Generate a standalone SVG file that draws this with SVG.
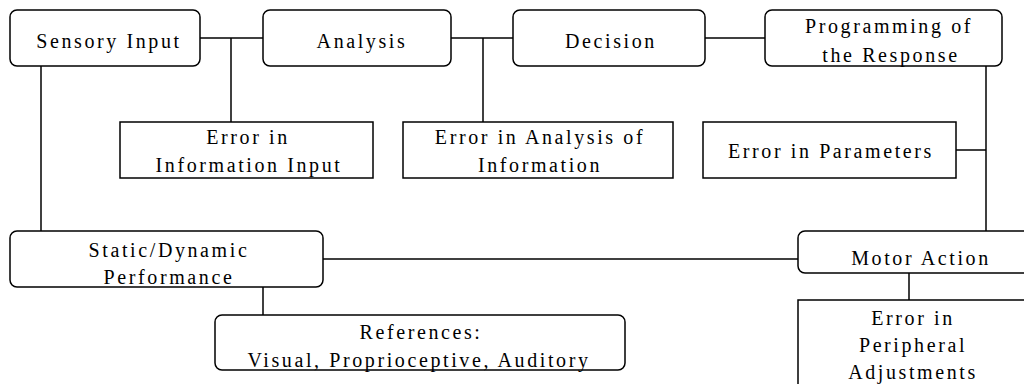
<svg xmlns="http://www.w3.org/2000/svg" width="1024" height="384" viewBox="0 0 1024 384">
<style>
.rb{fill:#fff;stroke:#000;stroke-width:1.5}
.sb{fill:#fff;stroke:#000;stroke-width:1.5}
.t{font-size:20px;letter-spacing:2.6px;text-anchor:middle;fill:#000}
.c{stroke:#000;stroke-width:1.5;fill:none}
</style>
<rect width="1024" height="384" fill="#fff"/>
<g id="connectors">
<line class="c" x1="200" y1="38" x2="263" y2="38"/>
<line class="c" x1="231" y1="38" x2="231" y2="122"/>
<line class="c" x1="451" y1="38" x2="513" y2="38"/>
<line class="c" x1="483" y1="38" x2="483" y2="122"/>
<line class="c" x1="705" y1="38" x2="765" y2="38"/>
<line class="c" x1="986" y1="66" x2="986" y2="231"/>
<line class="c" x1="956" y1="150" x2="986" y2="150"/>
<line class="c" x1="41" y1="66" x2="41" y2="231"/>
<line class="c" x1="323" y1="259" x2="798" y2="259"/>
<line class="c" x1="909" y1="273" x2="909" y2="300"/>
<line class="c" x1="263" y1="287" x2="263" y2="315"/>
</g>
<g font-family="Liberation Serif, Times New Roman, DejaVu Serif, serif">
<g id="sensory-input">
<rect class="rb" x="10" y="10" width="190" height="56" rx="7"/>
<text class="t" x="109" y="48">Sensory Input</text>
</g>
<g id="analysis">
<rect class="rb" x="263" y="10" width="188" height="56" rx="7"/>
<text class="t" x="362" y="48">Analysis</text>
</g>
<g id="decision">
<rect class="rb" x="513" y="10" width="192" height="56" rx="7"/>
<text class="t" x="611" y="48">Decision</text>
</g>
<g id="programming">
<rect class="rb" x="765" y="10" width="237" height="56" rx="7"/>
<text class="t" x="889" y="33">Programming of</text>
<text class="t" x="891" y="62">the Response</text>
</g>
<g id="error-information-input">
<rect class="sb" x="120" y="122" width="253" height="56"/>
<text class="t" x="248" y="144">Error in</text>
<text class="t" x="249" y="172">Information Input</text>
</g>
<g id="error-analysis">
<rect class="sb" x="403" y="122" width="270" height="56"/>
<text class="t" x="540" y="144">Error in Analysis of</text>
<text class="t" x="540" y="172">Information</text>
</g>
<g id="error-parameters">
<rect class="sb" x="703" y="122" width="253" height="56"/>
<text class="t" x="831" y="158">Error in Parameters</text>
</g>
<g id="static-dynamic">
<rect class="rb" x="10" y="231" width="313" height="56" rx="7"/>
<text class="t" x="169" y="257">Static/Dynamic</text>
<text class="t" x="169" y="284">Performance</text>
</g>
<g id="motor-action">
<rect class="rb" x="798" y="231" width="244" height="42" rx="7"/>
<text class="t" x="921" y="265">Motor Action</text>
</g>
<g id="references">
<rect class="rb" x="215" y="315" width="410" height="55" rx="7"/>
<text class="t" x="421" y="339">References:</text>
<text class="t" x="419" y="367">Visual, Proprioceptive, Auditory</text>
</g>
<g id="error-peripheral">
<rect class="sb" x="798" y="300" width="232" height="100"/>
<text class="t" x="913" y="325">Error in</text>
<text class="t" x="913" y="352">Peripheral</text>
<text class="t" x="913" y="379">Adjustments</text>
</g>
</g>
</svg>
